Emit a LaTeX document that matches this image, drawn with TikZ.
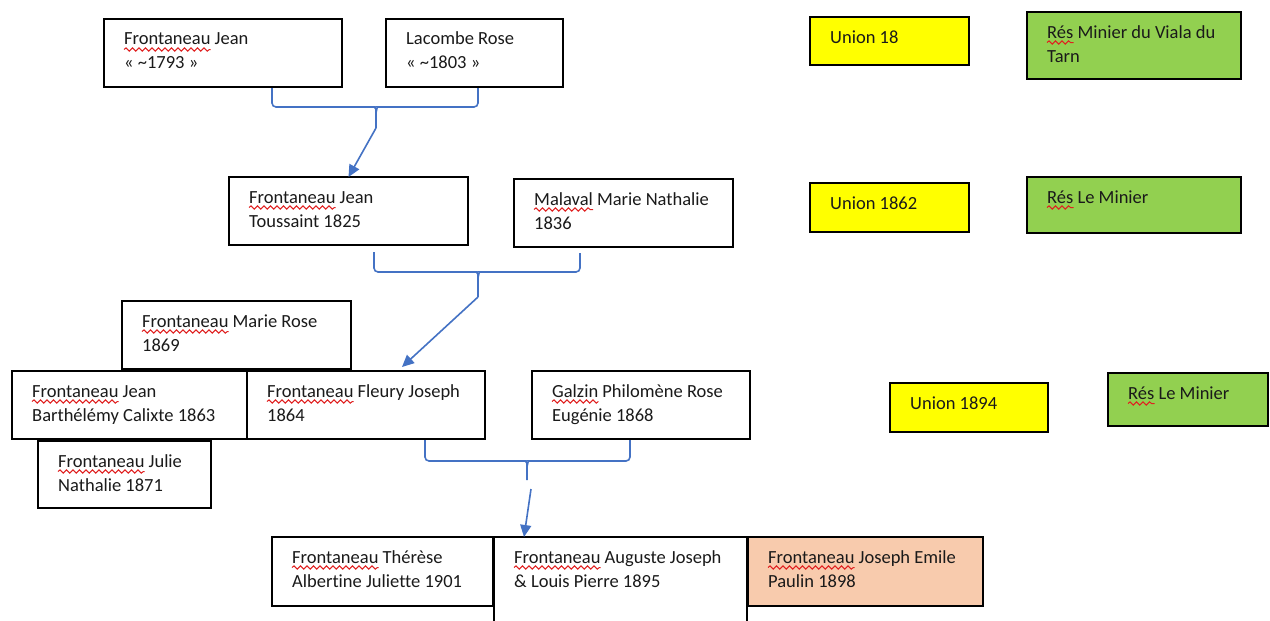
\documentclass[tikz,border=0pt]{standalone}
\usepackage{fontspec}
\setmainfont{Carlito}[Ligatures=NoCommon]
\usetikzlibrary{calc,arrows.meta,decorations.pathmorphing}
\definecolor{cblue}{HTML}{4472C4}
\definecolor{cyellow}{HTML}{FFFF00}
\definecolor{cgreen}{HTML}{92D050}
\definecolor{cpeach}{HTML}{F8CBAD}
\definecolor{ctext}{HTML}{1A1A1A}
\definecolor{cred}{HTML}{E02020}
\newcommand\famrect[7]{%
  \node[fambox, fill=#6, minimum width={(#4-#2)*1pt}, minimum height={(#5-#3)*1pt}] (#1) at (#2,#3) {};
  \node[famtxt] (#1-t) at ($(#1.north west)+(20,26)$) {\parbox[t]{400pt}{#7}};
}
\newcommand\famrectS[8]{%
  \famrect{#1}{#2}{#3}{#4}{#5}{#6}{#7#8}%
  \node[famtxt] (#1-w) at (#1-t.base west) {\phantom{#7}};
  \draw[squig] ($(#1-w.base west)+(0,4.5)$) -- ($(#1-w.base east)+(0,4.5)$);
}
\tikzset{
  fambox/.style={draw=black, line width=1.5pt, anchor=north west, inner sep=0pt, outer sep=0pt},
  famtxt/.style={anchor=base west, inner sep=0pt, text=ctext, font=\fontsize{18.5}{24}\selectfont},
  squig/.style={draw=cred, line width=1pt, decorate, decoration={snake, amplitude=1.6pt, segment length=6.5pt}},
  conn/.style={draw=cblue, line width=1.6pt, rounded corners=4pt},
  arr/.style={draw=cblue, line width=1.6pt, -{Triangle[length=12pt,width=11pt]}},
}
\begin{document}
\begin{tikzpicture}[x=1pt,y=-1pt]
\useasboundingbox (0,0) rectangle (1270,621);
\clip (0,0) rectangle (1270,621);
\fill[white] (0,0) rectangle (1270,621);
% generation 1
\famrectS{A}{104}{19}{342}{87}{white}{Frontaneau}{ Jean\\« \textasciitilde1793 »}
\famrect{B}{386}{19}{563}{87}{white}{Lacombe Rose\\« \textasciitilde1803 »}
% generation 2
\famrectS{C}{229}{177}{468}{245}{white}{Frontaneau}{ Jean\\Toussaint 1825}
\famrectS{D}{514}{179}{733}{247}{white}{Malaval}{ Marie Nathalie\\1836}
% generation 3
\famrectS{E}{122}{301}{351}{369}{white}{Frontaneau}{ Marie Rose\\1869}
\famrectS{F}{12}{371}{247}{439}{white}{Frontaneau}{ Jean\\Barthélémy Calixte 1863}
\famrectS{G}{247}{371}{485}{439}{white}{Frontaneau}{ Fleury Joseph\\1864}
\famrectS{H}{38}{441}{211}{508}{white}{Frontaneau}{ Julie\\Nathalie 1871}
\famrectS{I}{532}{371}{750}{439}{white}{Galzin}{ Philomène Rose\\Eugénie 1868}
% generation 4
\famrectS{J}{272}{537}{493}{606}{white}{Frontaneau}{ Thérèse\\Albertine Juliette 1901}
\famrectS{K}{494}{537}{747}{640}{white}{Frontaneau}{ Auguste Joseph\\\& Louis Pierre 1895}
\famrectS{L}{748}{537}{983}{606}{cpeach}{Frontaneau}{ Joseph Emile\\Paulin 1898}
% right column
\famrect{U1}{810}{17}{969}{65}{cyellow}{Union 18}
\famrectS{R1}{1027}{12}{1241}{79}{cgreen}{Rés}{ Minier du Viala du\\Tarn}
\famrect{U2}{810}{183}{969}{232}{cyellow}{Union 1862}
\famrectS{R2}{1027}{177}{1241}{233}{cgreen}{Rés}{ Le Minier}
\famrect{U3}{890}{383}{1048}{432}{cyellow}{Union 1894}
\famrectS{R3}{1108}{373}{1268}{426}{cgreen}{Rés}{ Le Minier}
% brace 1
\coordinate (b1c) at (376,107);
\coordinate (m1) at (376,128);
\draw[conn] ($(A.south west)+(168,1)$) |- ($(b1c)+(-5,0)$) to[out=0,in=90] ($(b1c)+(0,6)$) -- (m1);
\draw[conn] ($(B.south west)+(92,1)$) |- ($(b1c)+(5,0)$) to[out=180,in=90] ($(b1c)+(0,6)$);
\draw[arr] (m1) -- (C.north);
% brace 2
\coordinate (b2c) at (478,272);
\coordinate (m2) at (478,297);
\draw[conn] ($(C.south west)+(145,7)$) |- ($(b2c)+(-5,0)$) to[out=0,in=90] ($(b2c)+(0,6)$) -- (m2);
\draw[conn] ($(D.south west)+(66,6)$) |- ($(b2c)+(5,0)$) to[out=180,in=90] ($(b2c)+(0,6)$);
\draw[arr] (m2) -- ($(G.north west)+(155,-4)$);
% brace 3
\coordinate (b3c) at (527,461);
\coordinate (m3) at (527,480);
\coordinate (m3b) at (531,489);
\draw[conn] ($(G.south west)+(178,1)$) |- ($(b3c)+(-5,0)$) to[out=0,in=90] ($(b3c)+(0,6)$) -- (m3);
\draw[conn] ($(I.south west)+(98,1)$) |- ($(b3c)+(5,0)$) to[out=180,in=90] ($(b3c)+(0,6)$);
\draw[arr] (m3b) -- ($(K.north west)+(30,0)$);
\end{tikzpicture}
\end{document}
